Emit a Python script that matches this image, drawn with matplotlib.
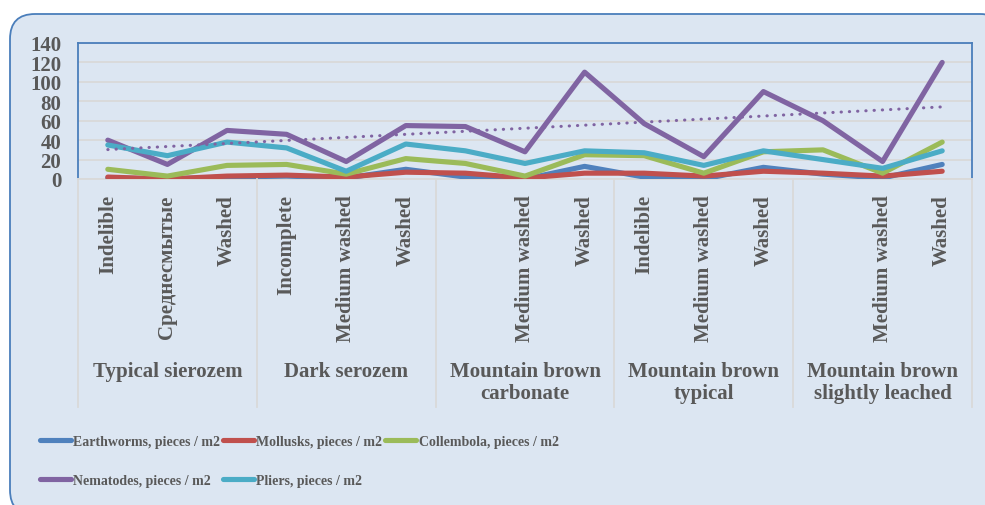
import matplotlib
matplotlib.use('Agg')
import matplotlib.pyplot as plt
import matplotlib.transforms as mtransforms
from matplotlib.patches import FancyBboxPatch
from matplotlib.lines import Line2D
import numpy as np

# soil / erosion categories (x axis, two levels)
categories = ['Indelible', 'Среднесмытые', 'Washed',
              'Incomplete', 'Medium washed', 'Washed',
              '', 'Medium washed', 'Washed',
              'Indelible', 'Medium washed', 'Washed',
              '', 'Medium washed', 'Washed']
groups = ['Typical sierozem', 'Dark serozem', 'Mountain brown\ncarbonate',
          'Mountain brown\ntypical', 'Mountain brown\nslightly leached']
group_sizes = [3, 3, 3, 3, 3]

# values, pieces / m2
earthworms = [1, 0, 2, 3, 1, 10, 2, 0, 13, 2, 0, 12, 5, 1, 15]
mollusks = [2, 0, 3, 4, 2, 7, 6, 1, 6, 6, 3, 8, 6, 3, 8]
collembola = [10, 3, 14, 15, 5, 21, 16, 3, 25, 24, 6, 28, 30, 6, 38]
nematodes = [40, 15, 50, 46, 18, 55, 54, 28, 110, 57, 23, 90, 60, 18, 120]
pliers = [35, 24, 38, 32, 8, 36, 29, 16, 29, 27, 14, 29, 20, 11, 29]

series_names = ['Earthworms, pieces / m2', 'Mollusks, pieces / m2',
                'Collembola, pieces / m2', 'Nematodes, pieces / m2',
                'Pliers, pieces / m2']
colors = ['#4f81bd', '#c0504d', '#9bbb59', '#8064a2', '#4bacc6']

yticks = [0, 20, 40, 60, 80, 100, 120, 140]

txt_color = '#595959'
plt.rcParams['font.family'] = ['Liberation Serif', 'DejaVu Serif']
plt.rcParams['font.weight'] = 'bold'

W, H = 985, 506
fig = plt.figure(figsize=(W / 100, H / 100), dpi=100)
fig.patch.set_facecolor('white')

# rounded chart-area box
box = FancyBboxPatch((10 + 25, -10 + 25), 995 - 50, 491 + 10 - 50,
                     boxstyle='round,pad=25', transform=None,
                     facecolor='#dce6f2', edgecolor='#4a7ebb', linewidth=1.3,
                     zorder=0)
fig.add_artist(box)

# plot area
ax = fig.add_axes([78 / W, (H - 180) / H, 894 / W, 136 / H])
ax.set_facecolor('none')

x = np.arange(len(categories))
data = [earthworms, mollusks, collembola, nematodes, pliers]
handles = []
for vals, name, c in zip(data, series_names, colors):
    ln, = ax.plot(x, vals, color=c, lw=3.7, solid_joinstyle='round',
                  solid_capstyle='round', label=name, zorder=3)
    handles.append(ln)

# linear trend for nematodes
coef = np.polyfit(x, nematodes, 1)
ax.plot(x, np.polyval(coef, x), color='#8064a2', lw=2.2,
        linestyle=(0, (0.1, 2.6)), dash_capstyle='round', zorder=4)

ax.set_xlim(-0.5, len(categories) - 0.5)
ax.set_ylim(0, 140)
ax.set_yticks(yticks)
ax.set_yticklabels([str(v) for v in yticks], fontsize=15, color=txt_color,
                   fontweight='bold')
ax.tick_params(axis='y', length=0, pad=12)
ax.yaxis.grid(True, color='#d9d9d9', lw=1.3, zorder=0)
ax.set_axisbelow(True)

ax.set_xticks(x)
ax.set_xticklabels(categories, rotation=90, fontsize=15, color=txt_color,
                   va='top', fontweight='bold')
ax.tick_params(axis='x', length=0, pad=11)

for side in ['left', 'top', 'right']:
    ax.spines[side].set_color('#4a7ebb')
    ax.spines[side].set_linewidth(1.3)
ax.spines['bottom'].set_color('#d9d9d9')
ax.spines['bottom'].set_linewidth(1.3)

# group labels and separators of the multi-level axis
trans = mtransforms.blended_transform_factory(ax.transData, fig.transFigure)
edges = np.concatenate([[0], np.cumsum(group_sizes)]) - 0.5
for e in edges:
    fig.add_artist(Line2D([e, e], [(H - 180) / H, (H - 408) / H], transform=trans,
                          color='#d9d9d9', lw=1.3))
for i, g in enumerate(groups):
    ax.text((edges[i] + edges[i + 1]) / 2, (H - 362) / H, g, transform=trans,
            ha='center', va='top', fontsize=15, color=txt_color,
            fontweight='bold', linespacing=1.15)

# legend, column-major order to match the layout
order = [0, 3, 1, 4, 2]
leg = fig.legend([handles[i] for i in order], [series_names[i] for i in order],
                 ncol=3, loc='upper left', bbox_to_anchor=(40 / W, (H - 436) / H),
                 frameon=False, prop={'size': 10, 'weight': 'bold'},
                 handlelength=2.2, handletextpad=0.2,
                 columnspacing=0.2, labelspacing=1.85, borderpad=0, borderaxespad=0)
for t in leg.get_texts():
    t.set_color(txt_color)
for l in leg.get_lines():
    l.set_linewidth(3.7)

fig.savefig('out.png', dpi=100)
